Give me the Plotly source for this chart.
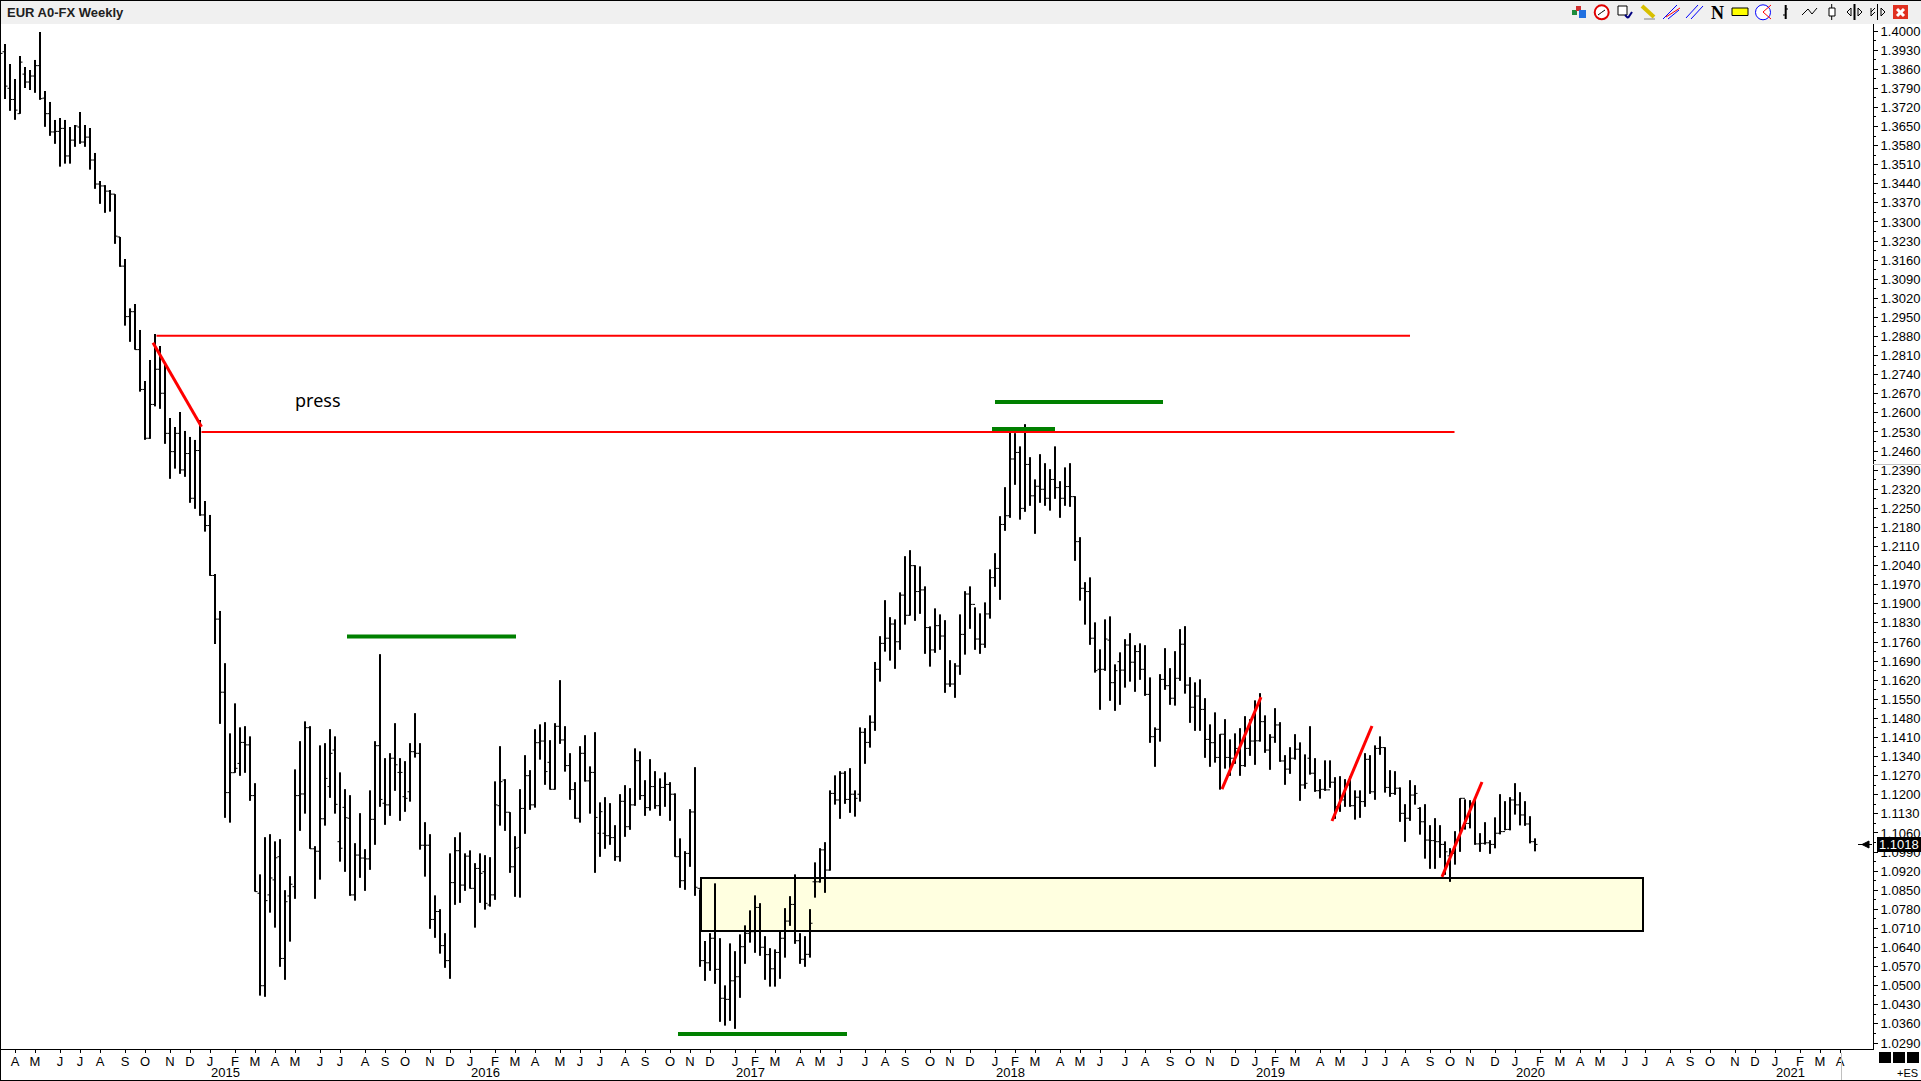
import plotly.graph_objects as go

# ============================================================
# 1 - DATA (weekly bars, one per week index)
# ============================================================

HIGHS = [
    1.3930, 1.3952, 1.3879, 1.3824, 1.3908, 1.3868, 1.3857, 1.3894, 1.3996, 1.3780,
    1.3740, 1.3674, 1.3681, 1.3674, 1.3648, 1.3655, 1.3703, 1.3655, 1.3644, 1.3553,
    1.3450, 1.3435, 1.3417, 1.3402, 1.3245, 1.3164, 1.2983, 1.2999, 1.2904, 1.2717,
    1.2794, 1.2889, 1.2845, 1.2776, 1.2581, 1.2548, 1.2603, 1.2534, 1.2512, 1.2501,
    1.2574, 1.2277, 1.2226, 1.2009, 1.1874, 1.1682, 1.1425, 1.1535, 1.1447, 1.1451,
    1.1414, 1.1242, 1.0908, 1.1044, 1.1055, 1.1029, 1.1037, 1.0850, 1.0901, 1.1293,
    1.1396, 1.1469, 1.1451, 1.1011, 1.1381, 1.1389, 1.1440, 1.1414, 1.1282, 1.1220,
    1.1198, 1.1022, 1.1132, 1.1000, 1.1216, 1.1396, 1.1715, 1.1334, 1.1352, 1.1462,
    1.1334, 1.1323, 1.1389, 1.1499, 1.1389, 1.1099, 1.1055, 1.0831, 1.0780, 1.0692,
    1.0985, 1.1044, 1.1062, 1.0985, 1.0996, 1.0949, 1.0985, 1.0978, 1.0971, 1.1249,
    1.1378, 1.1257, 1.1136, 1.1048, 1.1220, 1.1345, 1.1290, 1.1440, 1.1458, 1.1466,
    1.1400, 1.1462, 1.1620, 1.1451, 1.1352, 1.1246, 1.1378, 1.1418, 1.1304, 1.1429,
    1.1172, 1.1191, 1.1169, 1.1088, 1.1202, 1.1235, 1.1224, 1.1370, 1.1359, 1.1253,
    1.1330, 1.1286, 1.1260, 1.1282, 1.1246, 1.1205, 1.1040, 1.0993, 1.1147, 1.1301,
    1.0853, 1.0664, 1.0692, 1.0875, 1.0674, 1.0501, 1.0655, 1.0626, 1.0688, 1.0721,
    1.0776, 1.0831, 1.0802, 1.0681, 1.0637, 1.0633, 1.0699, 1.0784, 1.0828, 1.0908,
    1.0692, 1.0681, 1.0780, 1.0952, 1.1004, 1.1026, 1.1216, 1.1271, 1.1286, 1.1286,
    1.1297, 1.1216, 1.1447, 1.1444, 1.1491, 1.1687, 1.1781, 1.1913, 1.1851, 1.1843,
    1.1942, 1.2074, 1.2096, 1.2041, 1.2037, 1.1964, 1.1817, 1.1883, 1.1861, 1.1840,
    1.1693, 1.1682, 1.1861, 1.1946, 1.1964, 1.1887, 1.1865, 1.1905, 1.2026, 1.2085,
    1.2221, 1.2327, 1.2540, 1.2525, 1.2477, 1.2558, 1.2437, 1.2356, 1.2448, 1.2415,
    1.2393, 1.2477, 1.2349, 1.2400, 1.2415, 1.2294, 1.2144, 1.1979, 1.1997, 1.1832,
    1.1733, 1.1843, 1.1854, 1.1678, 1.1722, 1.1770, 1.1792, 1.1748, 1.1755, 1.1748,
    1.1630, 1.1447, 1.1642, 1.1737, 1.1664, 1.1726, 1.1807, 1.1818, 1.1631, 1.1612,
    1.1623, 1.1554, 1.1458, 1.1502, 1.1422, 1.1477, 1.1403, 1.1425, 1.1444, 1.1488,
    1.1477, 1.1546, 1.1572, 1.1491, 1.1422, 1.1517, 1.1466, 1.1345, 1.1374, 1.1422,
    1.1392, 1.1348, 1.1451, 1.1334, 1.1257, 1.1326, 1.1326, 1.1264, 1.1268, 1.1257,
    1.1268, 1.1216, 1.1216, 1.1352, 1.1345, 1.1381, 1.1414, 1.1374, 1.1290, 1.1286,
    1.1227, 1.1165, 1.1253, 1.1235, 1.1154, 1.1165, 1.1088, 1.1114, 1.1088, 1.1029,
    1.1004, 1.1066, 1.1187, 1.1183, 1.1180, 1.1183, 1.1059, 1.1099, 1.1033, 1.1117,
    1.1202, 1.1176, 1.1191, 1.1242, 1.1209, 1.1176, 1.1121, 1.1040,
]

LOWS = [
    1.3780, 1.3751, 1.3708, 1.3675, 1.3697, 1.3791, 1.3784, 1.3774, 1.3748, 1.3649,
    1.3616, 1.3587, 1.3503, 1.3514, 1.3514, 1.3576, 1.3587, 1.3576, 1.3492, 1.3422,
    1.3367, 1.3334, 1.3338, 1.3220, 1.3136, 1.2920, 1.2861, 1.2832, 1.2678, 1.2502,
    1.2505, 1.2624, 1.2615, 1.2487, 1.2359, 1.2396, 1.2377, 1.2366, 1.2271, 1.2249,
    1.2223, 1.2165, 1.2003, 1.1753, 1.1460, 1.1116, 1.1098, 1.1281, 1.1270, 1.1281,
    1.1178, 1.0845, 1.0464, 1.0460, 1.0768, 1.0713, 1.0570, 1.0522, 1.0662, 1.0819,
    1.1068, 1.1131, 1.1002, 1.0819, 1.0889, 1.1087, 1.1189, 1.1131, 1.0955, 1.0918,
    1.0830, 1.0812, 1.0896, 1.0848, 1.0925, 1.1017, 1.1156, 1.1090, 1.1123, 1.1215,
    1.1105, 1.1138, 1.1175, 1.1337, 1.0999, 1.0900, 1.0709, 1.0676, 1.0618, 1.0566,
    1.0526, 1.0797, 1.0804, 1.0848, 1.0856, 1.0713, 1.0804, 1.0779, 1.0790, 1.0815,
    1.1087, 1.1068, 1.0914, 1.0826, 1.0823, 1.1057, 1.1145, 1.1153, 1.1329, 1.1237,
    1.1219, 1.1219, 1.1387, 1.1285, 1.1182, 1.1112, 1.1098, 1.1249, 1.1131, 1.0914,
    1.0973, 1.1002, 1.1017, 1.0958, 1.0955, 1.1046, 1.1072, 1.1160, 1.1182, 1.1123,
    1.1142, 1.1149, 1.1123, 1.1156, 1.1105, 1.0973, 1.0859, 1.0852, 1.0936, 1.0830,
    1.0570, 1.0518, 1.0555, 1.0507, 1.0368, 1.0354, 1.0372, 1.0342, 1.0456, 1.0581,
    1.0658, 1.0621, 1.0610, 1.0522, 1.0497, 1.0497, 1.0526, 1.0603, 1.0720, 1.0654,
    1.0581, 1.0570, 1.0603, 1.0823, 1.0878, 1.0841, 1.0922, 1.1164, 1.1112, 1.1167,
    1.1134, 1.1120, 1.1175, 1.1314, 1.1373, 1.1435, 1.1615, 1.1725, 1.1692, 1.1662,
    1.1732, 1.1824, 1.1857, 1.1838, 1.1864, 1.1717, 1.1670, 1.1721, 1.1732, 1.1574,
    1.1596, 1.1556, 1.1640, 1.1714, 1.1809, 1.1732, 1.1717, 1.1739, 1.1846, 1.1963,
    1.1915, 1.2168, 1.2216, 1.2337, 1.2209, 1.2238, 1.2260, 1.2157, 1.2271, 1.2260,
    1.2242, 1.2285, 1.2216, 1.2260, 1.2256, 1.2058, 1.1912, 1.1824, 1.1750, 1.1648,
    1.1512, 1.1655, 1.1545, 1.1508, 1.1530, 1.1593, 1.1615, 1.1578, 1.1622, 1.1563,
    1.1391, 1.1303, 1.1395, 1.1585, 1.1530, 1.1527, 1.1618, 1.1571, 1.1464, 1.1435,
    1.1435, 1.1336, 1.1303, 1.1318, 1.1219, 1.1296, 1.1270, 1.1314, 1.1270, 1.1303,
    1.1343, 1.1310, 1.1395, 1.1354, 1.1292, 1.1391, 1.1321, 1.1237, 1.1277, 1.1329,
    1.1178, 1.1222, 1.1274, 1.1211, 1.1186, 1.1215, 1.1226, 1.1112, 1.1138, 1.1156,
    1.1156, 1.1109, 1.1116, 1.1156, 1.1204, 1.1182, 1.1347, 1.1208, 1.1193, 1.1200,
    1.1101, 1.1028, 1.1105, 1.1164, 1.1054, 1.0966, 1.0929, 1.0929, 1.0969, 1.0907,
    1.0881, 1.0944, 1.0991, 1.1073, 1.1077, 1.1017, 1.0991, 1.1018, 1.0984, 1.1004,
    1.1055, 1.1070, 1.1070, 1.1128, 1.1088, 1.1086, 1.1022, 1.0993,
]

OPENS = [
    1.3880, 1.3924, 1.3790, 1.3749, 1.3697, 1.3842, 1.3813, 1.3835, 1.3873, 1.3754,
    1.3697, 1.3630, 1.3632, 1.3643, 1.3542, 1.3600, 1.3648, 1.3593, 1.3611, 1.3527,
    1.3439, 1.3432, 1.3413, 1.3402, 1.3245, 1.3138, 1.2953, 1.2971, 1.2832, 1.2686,
    1.2507, 1.2631, 1.2760, 1.2672, 1.2525, 1.2458, 1.2525, 1.2391, 1.2451, 1.2287,
    1.2462, 1.2226, 1.2187, 1.2004, 1.1844, 1.1576, 1.1208, 1.1281, 1.1315, 1.1392,
    1.1383, 1.1197, 1.0839, 1.0500, 1.0833, 1.0888, 1.0973, 1.0600, 1.0829, 1.0863,
    1.1197, 1.1203, 1.1446, 1.1002, 1.0993, 1.1112, 1.1230, 1.1364, 1.1028, 1.1154,
    1.1114, 1.0833, 1.0979, 1.0968, 1.0965, 1.1110, 1.1380, 1.1169, 1.1163, 1.1334,
    1.1282, 1.1193, 1.1211, 1.1358, 1.1352, 1.1015, 1.1015, 1.0743, 1.0772, 1.0647,
    1.0592, 1.0878, 1.0995, 1.0869, 1.0975, 1.0857, 1.0930, 1.0918, 1.0796, 1.0833,
    1.1160, 1.1254, 1.1136, 1.0936, 1.1007, 1.1150, 1.1270, 1.1163, 1.1391, 1.1397,
    1.1319, 1.1220, 1.1451, 1.1401, 1.1307, 1.1219, 1.1114, 1.1352, 1.1251, 1.1282,
    1.1059, 1.1059, 1.1050, 1.1043, 1.0973, 1.1176, 1.1083, 1.1163, 1.1325, 1.1197,
    1.1153, 1.1230, 1.1160, 1.1227, 1.1238, 1.1202, 1.0973, 1.0885, 1.0985, 1.1137,
    1.0857, 1.0592, 1.0584, 1.0674, 1.0560, 1.0454, 1.0450, 1.0518, 1.0533, 1.0643,
    1.0692, 1.0698, 1.0787, 1.0641, 1.0614, 1.0562, 1.0622, 1.0674, 1.0737, 1.0798,
    1.0665, 1.0597, 1.0615, 1.0881, 1.0881, 1.0998, 1.0924, 1.1205, 1.1181, 1.1279,
    1.1183, 1.1202, 1.1202, 1.1429, 1.1392, 1.1466, 1.1660, 1.1755, 1.1774, 1.1826,
    1.1761, 1.1932, 1.1858, 1.2040, 1.1945, 1.1951, 1.1813, 1.1731, 1.1820, 1.1782,
    1.1606, 1.1606, 1.1672, 1.1788, 1.1936, 1.1898, 1.1771, 1.1752, 1.1863, 1.1996,
    1.2030, 1.2191, 1.2223, 1.2431, 1.2455, 1.2250, 1.2411, 1.2296, 1.2331, 1.2320,
    1.2287, 1.2356, 1.2326, 1.2287, 1.2330, 1.2293, 1.2128, 1.1957, 1.1945, 1.1774,
    1.1660, 1.1660, 1.1767, 1.1611, 1.1688, 1.1657, 1.1749, 1.1686, 1.1725, 1.1660,
    1.1568, 1.1413, 1.1440, 1.1623, 1.1600, 1.1554, 1.1627, 1.1752, 1.1602, 1.1521,
    1.1562, 1.1513, 1.1403, 1.1391, 1.1337, 1.1422, 1.1337, 1.1334, 1.1370, 1.1307,
    1.1370, 1.1397, 1.1398, 1.1468, 1.1364, 1.1411, 1.1456, 1.1324, 1.1294, 1.1334,
    1.1367, 1.1236, 1.1334, 1.1279, 1.1215, 1.1220, 1.1218, 1.1246, 1.1156, 1.1181,
    1.1236, 1.1160, 1.1191, 1.1175, 1.1330, 1.1211, 1.1370, 1.1373, 1.1227, 1.1205,
    1.1224, 1.1132, 1.1114, 1.1199, 1.1150, 1.1101, 1.1034, 1.1032, 1.1028, 1.1018,
    1.0976, 1.0985, 1.1034, 1.1187, 1.1095, 1.1169, 1.1020, 1.1022, 1.1024, 1.1018,
    1.1059, 1.1065, 1.1073, 1.1181, 1.1163, 1.1126, 1.1093, 1.1028,
]

CLOSES = [
    1.3918, 1.3798, 1.3749, 1.3710, 1.3886, 1.3813, 1.3835, 1.3873, 1.3752, 1.3697,
    1.3630, 1.3632, 1.3643, 1.3542, 1.3600, 1.3652, 1.3593, 1.3611, 1.3527, 1.3439,
    1.3432, 1.3413, 1.3402, 1.3248, 1.3138, 1.2953, 1.2971, 1.2832, 1.2686, 1.2507,
    1.2631, 1.2760, 1.2672, 1.2525, 1.2458, 1.2525, 1.2391, 1.2451, 1.2287, 1.2462,
    1.2226, 1.2187, 1.2004, 1.1844, 1.1576, 1.1208, 1.1281, 1.1297, 1.1392, 1.1383,
    1.1197, 1.0845, 1.0500, 1.0812, 1.0895, 1.0969, 1.0600, 1.0808, 1.0872, 1.1197,
    1.1203, 1.1446, 1.1002, 1.0993, 1.1112, 1.1260, 1.1352, 1.1165, 1.1004, 1.1116,
    1.0833, 1.0979, 1.0968, 1.0965, 1.1110, 1.1380, 1.1183, 1.1163, 1.1334, 1.1310,
    1.1282, 1.1187, 1.1358, 1.1352, 1.1015, 1.1015, 1.0743, 1.0772, 1.0647, 1.0592,
    1.0878, 1.0995, 1.0869, 1.0975, 1.0857, 1.0930, 1.0912, 1.0802, 1.0833, 1.1163,
    1.1248, 1.1136, 1.0936, 1.1004, 1.1150, 1.1270, 1.1163, 1.1391, 1.1397, 1.1285,
    1.1220, 1.1451, 1.1401, 1.1307, 1.1219, 1.1114, 1.1352, 1.1251, 1.1282, 1.1117,
    1.1138, 1.1050, 1.1043, 1.0973, 1.1176, 1.1083, 1.1163, 1.1325, 1.1197, 1.1153,
    1.1230, 1.1160, 1.1227, 1.1238, 1.1202, 1.0973, 1.0885, 1.0985, 1.1137, 1.0861,
    1.0592, 1.0584, 1.0674, 1.0560, 1.0454, 1.0450, 1.0518, 1.0533, 1.0643, 1.0692,
    1.0698, 1.0787, 1.0641, 1.0614, 1.0562, 1.0622, 1.0674, 1.0737, 1.0798, 1.0665,
    1.0597, 1.0615, 1.0729, 1.0881, 1.0998, 1.0924, 1.1205, 1.1181, 1.1279, 1.1183,
    1.1202, 1.1187, 1.1429, 1.1392, 1.1466, 1.1660, 1.1755, 1.1774, 1.1826, 1.1761,
    1.1932, 1.1858, 1.2040, 1.1945, 1.1951, 1.1813, 1.1731, 1.1820, 1.1782, 1.1606,
    1.1606, 1.1672, 1.1788, 1.1936, 1.1898, 1.1771, 1.1752, 1.1863, 1.1996, 1.2030,
    1.2191, 1.2223, 1.2431, 1.2455, 1.2250, 1.2411, 1.2296, 1.2331, 1.2320, 1.2287,
    1.2356, 1.2326, 1.2287, 1.2330, 1.2293, 1.2128, 1.1957, 1.1945, 1.1774, 1.1655,
    1.1660, 1.1771, 1.1611, 1.1655, 1.1657, 1.1749, 1.1686, 1.1725, 1.1660, 1.1568,
    1.1413, 1.1440, 1.1623, 1.1600, 1.1554, 1.1627, 1.1752, 1.1602, 1.1521, 1.1562,
    1.1513, 1.1403, 1.1391, 1.1337, 1.1422, 1.1337, 1.1334, 1.1370, 1.1307, 1.1370,
    1.1397, 1.1398, 1.1468, 1.1364, 1.1411, 1.1456, 1.1324, 1.1294, 1.1334, 1.1367,
    1.1236, 1.1242, 1.1279, 1.1215, 1.1220, 1.1218, 1.1246, 1.1156, 1.1181, 1.1236,
    1.1160, 1.1191, 1.1175, 1.1330, 1.1211, 1.1370, 1.1373, 1.1227, 1.1205, 1.1224,
    1.1132, 1.1114, 1.1199, 1.1205, 1.1101, 1.1034, 1.1032, 1.1028, 1.1018, 1.0991,
    1.0985, 1.1034, 1.1187, 1.1095, 1.1169, 1.1020, 1.1022, 1.1024, 1.1018, 1.1059,
    1.1065, 1.1073, 1.1181, 1.1163, 1.1126, 1.1093, 1.1028, 1.1018,
]

WEEKS = list(range(len(CLOSES)))

MONTH_WEEKS = [
    3, 7, 12, 16, 20, 25, 29, 34, 38, 42, 47, 51, 55, 59, 64, 68, 73, 77, 81, 86,
    90, 94, 99, 103, 107, 112, 116, 120, 125, 129, 134, 138, 142, 147, 151, 155,
    160, 164, 168, 173, 177, 181, 186, 190, 194, 199, 203, 207, 212, 216, 220, 225,
    229, 234, 238, 242, 247, 251, 255, 259, 264, 268, 273, 277, 281, 286, 290, 294,
    299, 303, 308, 312, 316, 320, 325, 329, 334, 338, 342, 347, 351, 355, 360, 364, 368,
]
MONTH_LABELS = list(
    "AMJJASONDJFMAMJJASONDJFMAMJJASONDJFMAMJJASONDJFMAMJJASONDJFMAMJJASONDJFMAMJJASONDJFMA"
)
YEAR_WEEKS = [42, 94, 147, 199, 251, 303, 355]
YEAR_LABELS = ["2015", "2016", "2017", "2018", "2019", "2020", "2021"]

LAST_PRICE = 1.1018

# drawings on the chart: (week start, week end, price start, price end)
RED_LINES = [
    (31.3, 282.0, 1.2883, 1.2883),
    (40.3, 290.9, 1.2530, 1.2530),
]
RED_TRENDS = [
    (30.6, 40.3, 1.2857, 1.2549),
    (244.4, 252.2, 1.1221, 1.1558),
    (266.4, 274.4, 1.1104, 1.1452),
    (288.4, 296.4, 1.0899, 1.1247),
]
GREEN_LINES = [
    (69.4, 103.2, 1.1780, 1.1780),
    (135.6, 169.4, 1.0323, 1.0323),
    (199.0, 232.6, 1.2640, 1.2640),
    (198.4, 211.0, 1.2541, 1.2541),
]
ZONE = (140.2, 328.6, 1.0701, 1.0895)
PRESS_NOTE = (58.5, 1.2647)

# ============================================================
# 2 - PAGE GEOMETRY
# ============================================================

W, H = 1921, 1081
FIG_H = 1085
Y_STRETCH = 1083 / 1081  # the photographed page comes out slightly short in y
PLOT_RIGHT, PLOT_TOP, PLOT_BOTTOM = 1873, 24, 1049
FONT = "Liberation Sans, Arial, sans-serif"


def px(x):
    return x / W


def py(y):
    return 1 - y * Y_STRETCH / FIG_H


# ============================================================
# 3 - BARS
# ============================================================

stem_x, stem_y = [], []
for w, hi, lo in zip(WEEKS, HIGHS, LOWS):
    stem_x += [w, w, None]
    stem_y += [hi, lo, None]

fig = go.Figure()

fig.add_trace(go.Ohlc(
    x=WEEKS, open=OPENS, high=HIGHS, low=LOWS, close=CLOSES,
    increasing_line=dict(color="black", width=1),
    decreasing_line=dict(color="black", width=1),
    tickwidth=0.5,
    showlegend=False,
))
fig.add_trace(go.Scatter(
    x=stem_x, y=stem_y, mode="lines",
    line=dict(color="black", width=2),
    showlegend=False, hoverinfo="skip",
))

# ============================================================
# 4 - DRAWINGS AND WINDOW CHROME
# ============================================================

shapes = []


def paper_rect(x0, y0, x1, y1, fill, line=None, width=0):
    shapes.append(dict(
        type="rect", xref="paper", yref="paper",
        x0=px(x0), x1=px(x1), y0=py(y0), y1=py(y1),
        fillcolor=fill, line=dict(color=line or fill, width=width), layer="above",
    ))


def paper_line(x0, y0, x1, y1, color, width=1):
    shapes.append(dict(
        type="line", xref="paper", yref="paper",
        x0=px(x0), x1=px(x1), y0=py(y0), y1=py(y1),
        line=dict(color=color, width=width), layer="above",
    ))


def paper_circle(cx, cy, r, fill, line, width=1):
    shapes.append(dict(
        type="circle", xref="paper", yref="paper",
        x0=px(cx - r), x1=px(cx + r), y0=py(cy - r), y1=py(cy + r),
        fillcolor=fill, line=dict(color=line, width=width), layer="above",
    ))


# yellow zone stays under the bars
shapes.append(dict(
    type="rect", x0=ZONE[0], x1=ZONE[1], y0=ZONE[2], y1=ZONE[3],
    fillcolor="#FFFFE0", line=dict(color="black", width=2), layer="below",
))
for x0, x1, y0, y1 in RED_LINES:
    shapes.append(dict(type="line", x0=x0, x1=x1, y0=y0, y1=y1,
                       line=dict(color="#FF0000", width=2), layer="above"))
for x0, x1, y0, y1 in RED_TRENDS:
    shapes.append(dict(type="line", x0=x0, x1=x1, y0=y0, y1=y1,
                       line=dict(color="#FF0000", width=3), layer="above"))
for x0, x1, y0, y1 in GREEN_LINES:
    shapes.append(dict(type="line", x0=x0, x1=x1, y0=y0, y1=y1,
                       line=dict(color="#008000", width=4), layer="above"))

# title bar and frame
paper_rect(0, 0, W, PLOT_TOP, "#F0F0F0")
paper_line(0, 0.5, W, 0.5, "black")
paper_line(0.5, 0, 0.5, H, "black")
paper_line(0, 1080.5, W, 1080.5, "black")

# toolbar icons
paper_rect(1572, 10, 1577, 15, "#1E8C3C")
paper_rect(1576, 6, 1581, 11, "#D03030")
paper_rect(1579, 10, 1586, 18, "#2070E0")
paper_circle(1601.7, 12.3, 7, "white", "#E00000", 2)
paper_line(1601.7, 12.3, 1605, 10, "black")
paper_line(1601.7, 12.3, 1598, 15, "black")
paper_rect(1618, 6, 1627, 15, "white", "black", 1)
paper_line(1625, 15, 1628, 18, "#000080", 2)
paper_line(1628, 18, 1632, 12, "#000080", 2)
paper_line(1642, 6, 1654, 17, "#D8C000", 4)
paper_line(1644, 19, 1655, 19, "#808080")
paper_line(1663, 19, 1677, 5, "#0000FF")
paper_line(1666, 17, 1680, 8, "#FF0000")
paper_line(1668, 19, 1679, 10, "#0000FF")
paper_line(1686, 18, 1698, 5, "#0000FF")
paper_line(1691, 19, 1703, 6, "#0000FF")
paper_rect(1732, 8, 1748, 15.5, "#FFFF00", "black", 1)
paper_circle(1763, 12.3, 7.5, "white", "#0000FF", 1)
paper_line(1763, 12, 1771, 5, "#FF0000")
paper_line(1763, 12, 1771, 19, "#FF0000")
paper_line(1785.7, 5, 1785.7, 19, "black", 2)
paper_line(1785.7, 9, 1788, 9, "black")
paper_line(1785.7, 15, 1783, 15, "black")
paper_line(1802, 15, 1808, 9, "black")
paper_line(1808, 9, 1812, 14, "black")
paper_line(1812, 14, 1817, 8, "black")
paper_line(1831.7, 4, 1831.7, 20, "black")
paper_rect(1829, 8, 1835, 16, "white", "black", 1)
paper_line(1854.5, 4, 1854.5, 20, "black", 2)
paper_line(1847, 12, 1851, 8, "black")
paper_line(1847, 12, 1851, 16, "black")
paper_line(1851, 8, 1851, 16, "black")
paper_line(1862, 12, 1858, 8, "black")
paper_line(1862, 12, 1858, 16, "black")
paper_line(1858, 8, 1858, 16, "black")
paper_line(1877.5, 4, 1877.5, 20, "black")
paper_line(1871, 12, 1875, 8, "black")
paper_line(1871, 8, 1871, 16, "black")
paper_line(1871, 16, 1875, 12, "black")
paper_line(1885, 12, 1881, 8, "black")
paper_line(1885, 12, 1881, 16, "black")
paper_line(1881, 8, 1881, 16, "black")
paper_rect(1893, 5, 1908, 19, "#E03020")
paper_line(1897, 9, 1904, 16, "white", 3)
paper_line(1904, 9, 1897, 16, "white", 3)

# crosshair remains and bottom right corner
paper_line(PLOT_RIGHT, 464.5, W, 464.5, "#C0C0C0")
paper_line(1841.5, 1053, 1841.5, 1080, "#C0C0C0")
paper_rect(1879, 1052, 1891, 1063, "black")
paper_rect(1893, 1052, 1905, 1063, "black")
paper_rect(1907, 1052, 1919, 1063, "black")

# last price pointer
paper_line(1858, 844.5, 1872, 844.5, "black")
shapes.append(dict(
    type="path", xref="paper", yref="paper",
    path=f"M {px(1862)} {py(844.5)} L {px(1869)} {py(841)} L {px(1869)} {py(848)} Z",
    fillcolor="black", line=dict(color="black", width=1), layer="above",
))
paper_rect(1877, 837, W, 852, "black")

annotations = [
    dict(text="EUR A0-FX Weekly", xref="paper", yref="paper", x=px(5), y=py(12.5),
         xanchor="left", yanchor="middle", showarrow=False,
         font=dict(family=FONT, size=13, color="#202020", weight="bold")),
    dict(text="N", xref="paper", yref="paper", x=px(1717), y=py(12.5),
         xanchor="center", yanchor="middle", showarrow=False,
         font=dict(family="Liberation Serif", size=18, color="black", weight="bold")),
    dict(text="press", x=PRESS_NOTE[0], y=PRESS_NOTE[1], xanchor="left", yanchor="middle",
         showarrow=False, font=dict(family="Noto Sans", size=18, color="black")),
    dict(text=f"{LAST_PRICE:.4f}", xref="paper", y=LAST_PRICE, x=px(1899), xanchor="center",
         yanchor="middle", showarrow=False, font=dict(family=FONT, size=13, color="white")),
    dict(text="+ES", xref="paper", yref="paper", x=px(1920), y=py(1073), xanchor="right",
         yanchor="middle", showarrow=False, font=dict(family=FONT, size=11, color="black")),
]
for w, label in zip(YEAR_WEEKS, YEAR_LABELS):
    annotations.append(dict(
        text=label, x=w, xref="x", yref="paper", y=py(1072.5), xanchor="left",
        xshift=-1, yanchor="middle", showarrow=False,
        font=dict(family=FONT, size=13, color="black"),
    ))

# ============================================================
# 5 - AXES
# ============================================================

fig.update_layout(
    width=W, height=FIG_H,
    margin=dict(l=0, r=0, t=0, b=0),
    paper_bgcolor="white", plot_bgcolor="white",
    showlegend=False,
    shapes=shapes,
    annotations=annotations,
    xaxis=dict(
        domain=[0, px(PLOT_RIGHT)],
        range=[0, PLOT_RIGHT / 5],
        rangeslider=dict(visible=False),
        tickmode="array", tickvals=MONTH_WEEKS, ticktext=MONTH_LABELS,
        ticks="outside", ticklen=3, tickcolor="black", tickangle=0,
        ticklabelstandoff=-3,
        showgrid=False, zeroline=False,
        showline=True, linecolor="black", linewidth=1,
        tickfont=dict(family=FONT, size=13, color="black"),
    ),
    yaxis=dict(
        domain=[py(PLOT_BOTTOM), py(PLOT_TOP)],
        range=[1.02680, 1.40257],
        side="right",
        tick0=1.029, dtick=0.007, tickformat=".4f",
        ticks="outside", ticklen=4, tickcolor="black",
        minor=dict(tick0=1.029, dtick=0.0035, ticks="outside", ticklen=2, tickcolor="black"),
        showgrid=False, zeroline=False,
        showline=True, linecolor="black", linewidth=1,
        tickfont=dict(family=FONT, size=13, color="black"),
    ),
)

fig.write_html(
    "out.html",
    config=dict(displayModeBar=False),
    post_script="document.body.style.margin='0';document.documentElement.style.overflow='hidden';",
)
